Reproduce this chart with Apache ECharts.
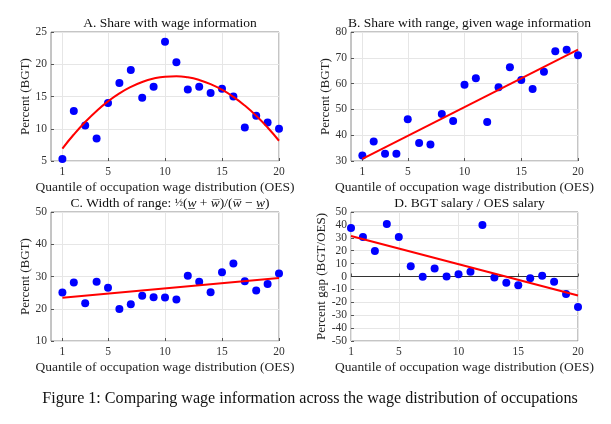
<!DOCTYPE html>
<html>
<head>
<meta charset="utf-8">
<script src="https://cdn.jsdelivr.net/npm/echarts@6.0.0/dist/echarts.min.js"></script>
<style>
html,body{margin:0;padding:0;background:#fff;}
#chart{width:611px;height:424px;}
</style>
</head>
<body>
<div id="chart"></div>
<script>
// ---- data ----
var quantiles = [1,2,3,4,5,6,7,8,9,10,11,12,13,14,15,16,17,18,19,20];
var xTicks = [1,5,10,15,20];

var shareWage = [5.3,12.75,10.5,8.5,14.0,17.1,19.1,14.8,16.5,23.5,20.3,16.1,16.5,15.55,16.2,15.0,10.2,12.0,10.95,10.0];
var fitShareWage = [6.93,9.11,11.05,12.76,14.24,15.48,16.48,17.25,17.78,18.08,18.15,17.98,17.57,16.93,16.05,14.94,13.59,12.01,10.19,8.14];

var shareRange = [32.1,37.6,32.85,32.85,46.15,37.0,36.35,48.2,45.5,59.6,62.05,45.1,58.55,66.3,61.4,57.9,64.6,72.5,73.15,70.95];
var fitEndsX = [1,20];
var fitShareRange = [30.8,73.2];

var widthRange = [25.05,28.15,21.7,28.35,26.5,19.95,21.4,24.0,23.6,23.5,22.85,30.2,28.35,25.15,31.35,34.05,28.55,25.65,27.7,30.95];
var fitWidthRange = [23.4,29.5];

var salaryGap = [37.6,30.6,19.7,40.7,30.6,8.0,-0.2,6.2,0.0,1.8,3.6,39.9,-0.8,-4.9,-6.7,-1.3,0.6,-4.1,-13.5,-23.6];
var fitSalaryGap = [31.35,-14.8];

var titles = [
  'A. Share with wage information',
  'B. Share with range, given wage information',
  null,
  'D. BGT salary / OES salary'
];
var xName = 'Quantile of occupation wage distribution (OES)';
var yNames = ['Percent (BGT)','Percent (BGT)','Percent (BGT)','Percent gap (BGT/OES)'];
var caption = 'Figure 1: Comparing wage information across the wage distribution of occupations';

// ---- chart ----
var FONT = '"Liberation Serif", "DejaVu Serif", serif';
var chart = echarts.init(document.getElementById('chart'), null, {renderer:'canvas'});

var grids = [
  {left:51, top:32, width:228, height:129},
  {left:351, top:32, width:227, height:129},
  {left:51, top:212, width:228, height:129},
  {left:351, top:212, width:227, height:129}
];
grids.forEach(function(g){
  g.show = true; g.borderColor = '#8a8a8a'; g.borderWidth = 1; g.backgroundColor = '#fff';
});

var yRanges = [[5,25,5],[30,80,10],[10,50,10],[-50,50,10]];
var xRanges = [[0,20],[0,20],[0,20],[1,20]];

function xAxisFor(i){
  return {
    type:'value', gridIndex:i, min:xRanges[i][0], max:xRanges[i][1],
    name:xName, nameLocation:'middle', nameGap:19,
    nameTextStyle:{fontFamily:FONT, fontSize:13.5, color:'#222'},
    axisLine:{show:false},
    axisTick:{show:true, inside:true, length:3, customValues:xTicks, lineStyle:{color:'#555'}},
    axisLabel:{customValues:xTicks, margin:5, fontFamily:FONT, fontSize:11.5, color:'#333'},
    splitLine:{show:true, lineStyle:{color:'#e6e6e6', width:1}}
  };
}
function yAxisFor(i){
  return {
    type:'value', gridIndex:i, min:yRanges[i][0], max:yRanges[i][1], interval:yRanges[i][2],
    name:yNames[i], nameLocation:'middle', nameGap: i===3 ? 23 : 19, nameRotate:90,
    nameTextStyle:{fontFamily:FONT, fontSize:13, color:'#222'},
    axisLine:{show:false},
    axisTick:{show:true, inside:true, length:3, lineStyle:{color:'#555'}},
    axisLabel:{margin:4, fontFamily:FONT, fontSize:11.5, color:'#333'},
    splitLine:{show:true, lineStyle:{color:'#e6e6e6', width:1}}
  };
}

function pairs(xs, ys){ return xs.map(function(x,k){ return [x, ys[k]]; }); }

function scatter(i, vals){
  return {type:'scatter', xAxisIndex:i, yAxisIndex:i, data:pairs(quantiles, vals),
    symbolSize:8, itemStyle:{color:'#0000ff', opacity:1}, z:3, silent:true};
}
function fitLine(i, xs, ys, smooth){
  return {type:'line', xAxisIndex:i, yAxisIndex:i, data:pairs(xs, ys), smooth:smooth||false,
    showSymbol:false, symbol:'none', lineStyle:{color:'#ff0000', width:2}, z:4, silent:true};
}

var titleOpts = [];
var centers = [[165,11],[464.5,11],[165,191],[464.5,191]];
titles.forEach(function(t,i){
  if (t) titleOpts.push({text:t, left:centers[i][0], top:centers[i][1], textAlign:'center',
    textStyle:{fontFamily:FONT, fontSize:13.5, fontWeight:'normal', color:'#111'}});
});
titleOpts.push({
  text:'{n|C. Width of range: }{f|½}{n|(}{i|w\u0332}{n| + }{i|w\u0305}{n|)/(}{i|w\u0305}{n| − }{i|w\u0332}{n|)}',
  left:centers[2][0], top:centers[2][1], textAlign:'center',
  textStyle:{fontWeight:'normal', rich:{
    n:{fontFamily:FONT, fontSize:13.5, fontWeight:'normal', color:'#111'},
    i:{fontFamily:FONT, fontSize:13.5, fontStyle:'italic', fontWeight:'normal', color:'#111'},
    f:{fontFamily:FONT, fontSize:11, fontWeight:'normal', color:'#111'}
  }}
});
titleOpts.push({text:caption, left:305, top:386, textAlign:'center',
  textStyle:{fontFamily:FONT, fontSize:16.1, fontWeight:'normal', color:'#111'}});

var series = [
  scatter(0, shareWage), fitLine(0, quantiles, fitShareWage, true),
  scatter(1, shareRange), fitLine(1, fitEndsX, fitShareRange),
  scatter(2, widthRange), fitLine(2, fitEndsX, fitWidthRange),
  scatter(3, salaryGap), fitLine(3, fitEndsX, fitSalaryGap)
];
series[6].markLine = {silent:true, symbol:'none', label:{show:false},
  lineStyle:{color:'#333', width:1, type:'solid'}, data:[{yAxis:0}], z:2};

chart.setOption({
  animation:false,
  backgroundColor:'#fff',
  title:titleOpts,
  grid:grids,
  xAxis:[0,1,2,3].map(xAxisFor),
  yAxis:[0,1,2,3].map(yAxisFor),
  series:series
});
</script>
</body>
</html>
